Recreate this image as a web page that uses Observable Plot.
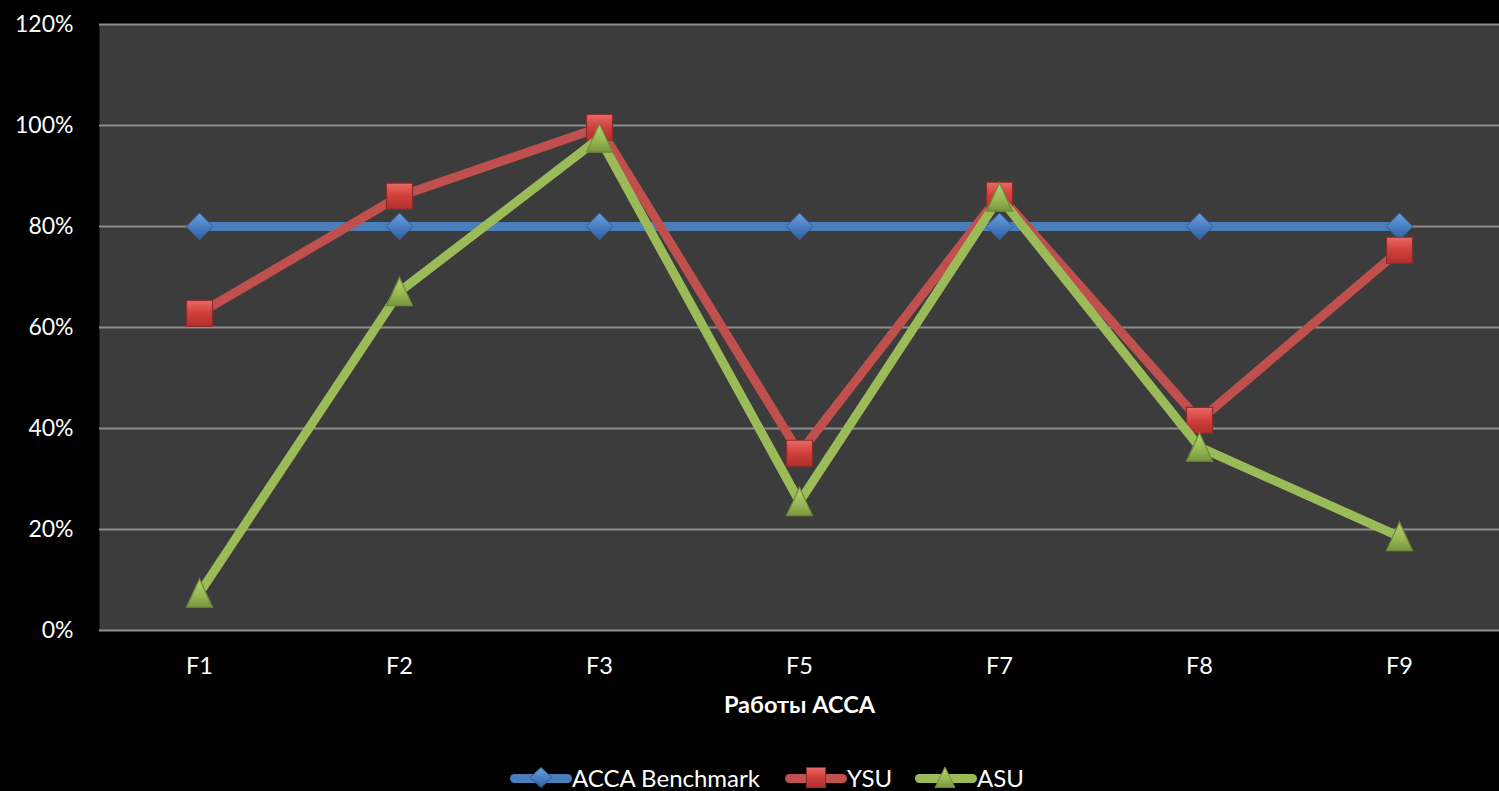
<!DOCTYPE html>
<html>
<head>
<meta charset="utf-8">
<script src="https://cdn.jsdelivr.net/npm/d3@7"></script>
<script src="https://cdn.jsdelivr.net/npm/@observablehq/plot@0.6"></script>
<style>
  html, body { margin: 0; padding: 0; background: #000; overflow: hidden; }
  #wrap { position: relative; width: 1499px; height: 791px; background: #000; }
  .leg { position: absolute; top: 763px; height: 28px; display: flex; align-items: center; color: #fff;
         font-family: Lato, "Open Sans", sans-serif; font-size: 24px; white-space: nowrap; }
  .leg svg { display: block; }
</style>
</head>
<body>
<div id="wrap"></div>
<script>
const categories = ["F1", "F2", "F3", "F5", "F7", "F8", "F9"];
const accaValues = [0.80, 0.80, 0.80, 0.80, 0.80, 0.80, 0.80];
const ysuValues  = [0.628, 0.86, 0.996, 0.351, 0.862, 0.416, 0.753];
const asuValues  = [0.074, 0.671, 0.975, 0.255, 0.858, 0.363, 0.186];
const yTicks = [0, 0.2, 0.4, 0.6, 0.8, 1.0, 1.2];
const seriesNames = ["ACCA Benchmark", "YSU", "ASU"];
const xTitle = "Работы ACCA";

const colors = { blue: "#4a7ebb", red: "#c0504d", green: "#9bbb59" };

const toRows = (vals) => categories.map((c, i) => ({ cat: c, v: vals[i] }));
const acca = toRows(accaValues), ysu = toRows(ysuValues), asu = toRows(asuValues);

const diamondSym = { draw(ctx) { const s = 13.5; ctx.moveTo(0, -s); ctx.lineTo(s, 0); ctx.lineTo(0, s); ctx.lineTo(-s, 0); ctx.closePath(); } };
const squareSym = { draw(ctx) { const s = 13; ctx.moveTo(-s, -s); ctx.lineTo(s, -s); ctx.lineTo(s, s); ctx.lineTo(-s, s); ctx.closePath(); } };
const triSym = { draw(ctx) { ctx.moveTo(0, -14.5); ctx.lineTo(13, 14); ctx.lineTo(-13, 14); ctx.closePath(); } };

const chart = Plot.plot({
  width: 1499,
  height: 750,
  marginLeft: 99,
  marginRight: 0,
  marginTop: 24,
  marginBottom: 120,
  style: { background: "#000", color: "#fff", fontFamily: "Lato, 'Open Sans', sans-serif" },
  x: { type: "point", domain: categories, padding: 0.5, label: null },
  y: { domain: [0, 1.2], label: null },
  marks: [
    Plot.frame({ fill: "#3c3c3c", stroke: null }),
    Plot.ruleY(yTicks, { stroke: "#8e8e8e", strokeWidth: 2 }),
    Plot.axisY({ ticks: yTicks, tickFormat: d => Math.round(d * 100) + "%", tickSize: 0, tickPadding: 26, fontSize: 23, label: null, fill: "#fff" }),
    Plot.axisX({ tickSize: 0, tickPadding: 27, fontSize: 23.5, label: null, fill: "#fff" }),
    Plot.text([xTitle], { frameAnchor: "bottom", lineAnchor: "middle", dy: 75, fontSize: 23.5, fontWeight: "bold", fill: "#fff" }),
    Plot.line(acca, { x: "cat", y: "v", stroke: colors.blue, strokeWidth: 9 }),
    Plot.dot(acca, { x: "cat", y: "v", symbol: diamondSym, fill: "url(#gBlue)", stroke: "#2f5b8e", strokeWidth: 1 }),
    Plot.line(ysu, { x: "cat", y: "v", stroke: colors.red, strokeWidth: 9 }),
    Plot.dot(ysu, { x: "cat", y: "v", symbol: squareSym, fill: "url(#gRed)", stroke: "#8a2c2a", strokeWidth: 1.2 }),
    Plot.line(asu, { x: "cat", y: "v", stroke: colors.green, strokeWidth: 9 }),
    Plot.dot(asu, { x: "cat", y: "v", symbol: triSym, fill: "url(#gGreen)", stroke: "#6e8a36", strokeWidth: 1.2 })
  ]
});

const defsHTML = `
<linearGradient id="gBlue" x1="0" y1="0" x2="0" y2="1"><stop offset="0" stop-color="#6a9ee0"/><stop offset="0.5" stop-color="#4a80c4"/><stop offset="1" stop-color="#2f5f9e"/></linearGradient>
<linearGradient id="gRed" x1="0" y1="0" x2="0" y2="1"><stop offset="0" stop-color="#e86a66"/><stop offset="0.5" stop-color="#cf3f3b"/><stop offset="1" stop-color="#b0302d"/></linearGradient>
<linearGradient id="gGreen" x1="0" y1="0" x2="0" y2="1"><stop offset="0" stop-color="#b3d36e"/><stop offset="0.6" stop-color="#96b754"/><stop offset="1" stop-color="#77953c"/></linearGradient>`;
const defs = document.createElementNS("http://www.w3.org/2000/svg", "defs");
defs.innerHTML = defsHTML;
chart.insertBefore(defs, chart.firstChild);

const wrap = document.getElementById("wrap");
wrap.appendChild(chart);

// Legend
const legendItems = [
  { name: seriesNames[0], color: colors.blue, left: 510, marker: '<path d="M31,4.5 L42,14.5 L31,24.5 L20,14.5 Z" fill="url(#gBlue)" stroke="#2f5b8e"/>' },
  { name: seriesNames[1], color: colors.red, left: 785, marker: '<rect x="21.5" y="4.5" width="19" height="20" fill="url(#gRed)" stroke="#8a2c2a"/>' },
  { name: seriesNames[2], color: colors.green, left: 915, marker: '<path d="M30,4 L40,24.5 L20,24.5 Z" fill="url(#gGreen)" stroke="#6e8a36"/>' }
];
legendItems.forEach(it => {
  const d = document.createElement("div");
  d.className = "leg";
  d.style.left = it.left + "px";
  d.innerHTML = `<svg width="62" height="28" viewBox="0 0 62 28"><line x1="4.5" y1="15.5" x2="57.5" y2="15.5" stroke="${it.color}" stroke-width="9" stroke-linecap="round"/>${it.marker}</svg><span>${it.name}</span>`;
  wrap.appendChild(d);
});
</script>
</body>
</html>
